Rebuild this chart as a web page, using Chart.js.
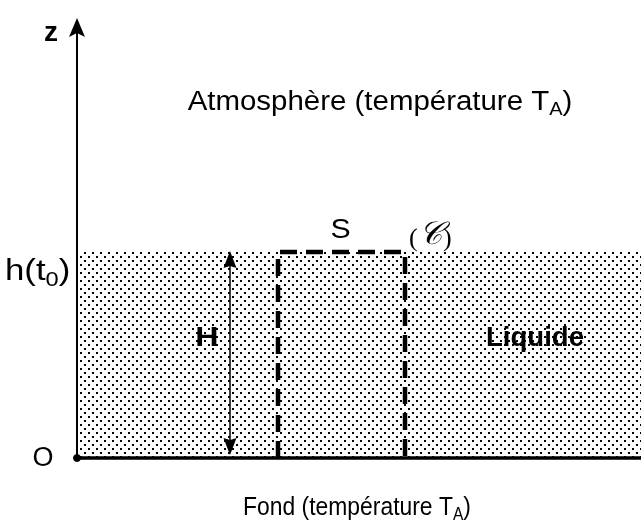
<!DOCTYPE html>
<html><head><meta charset="utf-8">
<script src="https://cdn.jsdelivr.net/npm/chart.js@4/dist/chart.umd.min.js"></script>
<style>html,body{margin:0;padding:0;background:#fff}#wrap{width:641px;height:525px}</style>
</head><body><div id="wrap"><canvas id="c"></canvas></div>
<script>
// ---- diagram values (units: origin at O, z upward) ----
const viewX = [-77, 564];
const viewY = [-67, 458];
const zAxisRange = [0, 440];          // z axis from O to arrow tip
const bottomRange = [0, 564];         // bottom (Fond) extent
const liquidLevel = [206];            // h(t0) = H
const controlVolumeX = [201, 328];    // sides of control volume (C), section S
const heightArrowX = [153];           // H double arrow
const heightArrowY = [3, 207];

// ---- labels ----
const labelAtmos = ['Atmosphère (température T', 'A', ')'];
const labelFond = ['Fond (température T', 'A', ')'];
const labelH0 = ['h(t', '0', ')'];
const labelZ = 'z';
const labelO = 'O';
const labelS = 'S';
const labelC = '𝒞';
const labelHeight = 'H';
const labelLiquid = 'Liquide';

// dotted pattern
const pc = document.createElement('canvas');
pc.width = 8; pc.height = 8;
const pctx = pc.getContext('2d');
pctx.fillStyle = '#fff'; pctx.fillRect(0,0,8,8);
pctx.fillStyle = '#000';
pctx.fillRect(0,0,2,2); pctx.fillRect(4,4,2,2);
const pattern = pctx.createPattern(pc, 'repeat');

const H = liquidLevel[0];
const FAM = '"Liberation Sans", Arial, sans-serif';

function drawRich(ctx, parts, x, y, size, align, bold, sx) {
  const segs = parts.map((t, i) => ({t, sub: (parts.length === 3 && i === 1)}));
  let total = 0;
  segs.forEach(s => {
    s.size = s.sub ? size * 0.68 : size;
    ctx.font = (bold ? 'bold ' : '') + s.size + 'px ' + FAM;
    s.w = ctx.measureText(s.t).width * sx;
    total += s.w;
  });
  let cx = align === 'center' ? x - total / 2 : x;
  ctx.fillStyle = '#000';
  ctx.textBaseline = 'alphabetic';
  ctx.textAlign = 'left';
  segs.forEach(s => {
    ctx.font = (bold ? 'bold ' : '') + s.size + 'px ' + FAM;
    ctx.save();
    ctx.translate(cx, y + (s.sub ? size * 0.2 : 0));
    ctx.scale(sx, 1);
    ctx.fillText(s.t, 0, 0);
    ctx.restore();
    cx += s.w;
  });
}

function arrowHead(ctx, x, y, dir, w, h, notch) {
  ctx.beginPath();
  ctx.moveTo(x, y);
  ctx.lineTo(x - w / 2, y + dir * h);
  ctx.lineTo(x, y + dir * (h - notch));
  ctx.lineTo(x + w / 2, y + dir * h);
  ctx.closePath();
  ctx.fillStyle = '#000';
  ctx.fill();
}

const annot = {
  id: 'annot',
  afterDatasetsDraw(chart) {
    const ctx = chart.ctx, xs = chart.scales.x, ys = chart.scales.y;
    const px = v => xs.getPixelForValue(v), py = v => ys.getPixelForValue(v);
    ctx.save();
    // arrow heads
    arrowHead(ctx, px(0), py(zAxisRange[1]), 1, 16, 19, 4);
    arrowHead(ctx, px(heightArrowX[0]), py(heightArrowY[1]), 1, 13, 17, 2);
    arrowHead(ctx, px(heightArrowX[0]), py(heightArrowY[0]), -1, 13, 17, 2);
    // texts
    drawRich(ctx, [labelZ], px(0) - 26, py(zAxisRange[1]) + 23, 28, 'center', true, 1.0);
    drawRich(ctx, labelAtmos, px(303), py(348), 27, 'center', false, 1.09);
    drawRich(ctx, labelH0, px(-72), py(H) + 28, 29, 'left', false, 1.2);
    drawRich(ctx, [labelS], px((controlVolumeX[0] + controlVolumeX[1]) / 2) - 1, py(H) - 14, 28, 'center', false, 1.08);
    // (C)
    ctx.fillStyle = '#000'; ctx.textAlign = 'left'; ctx.textBaseline = 'alphabetic';
    const cxp = px(controlVolumeX[1]) + 4, cyp = py(H) - 6;
    ctx.font = '26px "Liberation Serif", serif';
    ctx.fillText('(', cxp, cyp);
    ctx.font = 'italic 32px "DejaVu Serif", "Liberation Serif", serif';
    ctx.fillText(labelC, cxp + 10, cyp - 2);
    const cw = ctx.measureText(labelC).width;
    ctx.font = '26px "Liberation Serif", serif';
    ctx.fillText(')', cxp + 11 + cw, cyp);
    drawRich(ctx, [labelHeight], px(heightArrowX[0]) - 23, py(H / 2) - 9, 28, 'center', true, 1.15);
    drawRich(ctx, [labelLiquid], px(458), py(H / 2) - 9, 27, 'center', true, 1.02);
    drawRich(ctx, [labelO], px(0) - 34, py(0) + 8, 27, 'center', false, 1.0);
    drawRich(ctx, labelFond, px(280), py(0) + 57, 26, 'center', false, 0.88);
    ctx.restore();
  }
};

new Chart(document.getElementById('c'), {
  type: 'line',
  data: {
    datasets: [
      { label: 'z', data: [{x:0,y:zAxisRange[0]},{x:0,y:zAxisRange[1]-12}], borderColor:'#000', borderWidth:2, pointRadius:0, fill:false, order:1 },
      { label: 'H', data: [{x:heightArrowX[0],y:heightArrowY[0]+8},{x:heightArrowX[0],y:heightArrowY[1]-8}], borderColor:'#000', borderWidth:1.5, pointRadius:0, fill:false, order:1 },
      { label: 'C', data: [{x:controlVolumeX[0],y:0},{x:controlVolumeX[0],y:H},{x:controlVolumeX[1],y:H},{x:controlVolumeX[1],y:0}], borderColor:'#000', borderWidth:4.5, borderDash:[17,9], borderCapStyle:'butt', borderJoinStyle:'miter', pointRadius:0, fill:false, order:2 },
      { label: 'fond', data: [{x:bottomRange[0],y:0},{x:bottomRange[1],y:0}], borderColor:'#000', borderWidth:3.5, pointRadius:0, fill:false, order:1 },
      { label: 'O', data: [{x:0,y:0}], showLine:false, pointRadius:3.5, pointBackgroundColor:'#000', pointBorderColor:'#000', order:0 },
      { label: 'liquide', data: [{x:bottomRange[0],y:H},{x:bottomRange[1],y:H}], borderWidth:0, borderColor:'rgba(0,0,0,0)', backgroundColor: pattern, fill:'origin', pointRadius:0, order:5 }
    ]
  },
  options: {
    responsive: true, maintainAspectRatio: false, animation: false, events: [],
    layout: { padding: 0, autoPadding: false },
    plugins: { legend: {display:false}, tooltip: {enabled:false} },
    scales: {
      x: { type:'linear', min: viewX[0], max: viewX[1], display:false },
      y: { type:'linear', min: viewY[0], max: viewY[1], display:false }
    }
  },
  plugins: [annot]
});
</script></body></html>
